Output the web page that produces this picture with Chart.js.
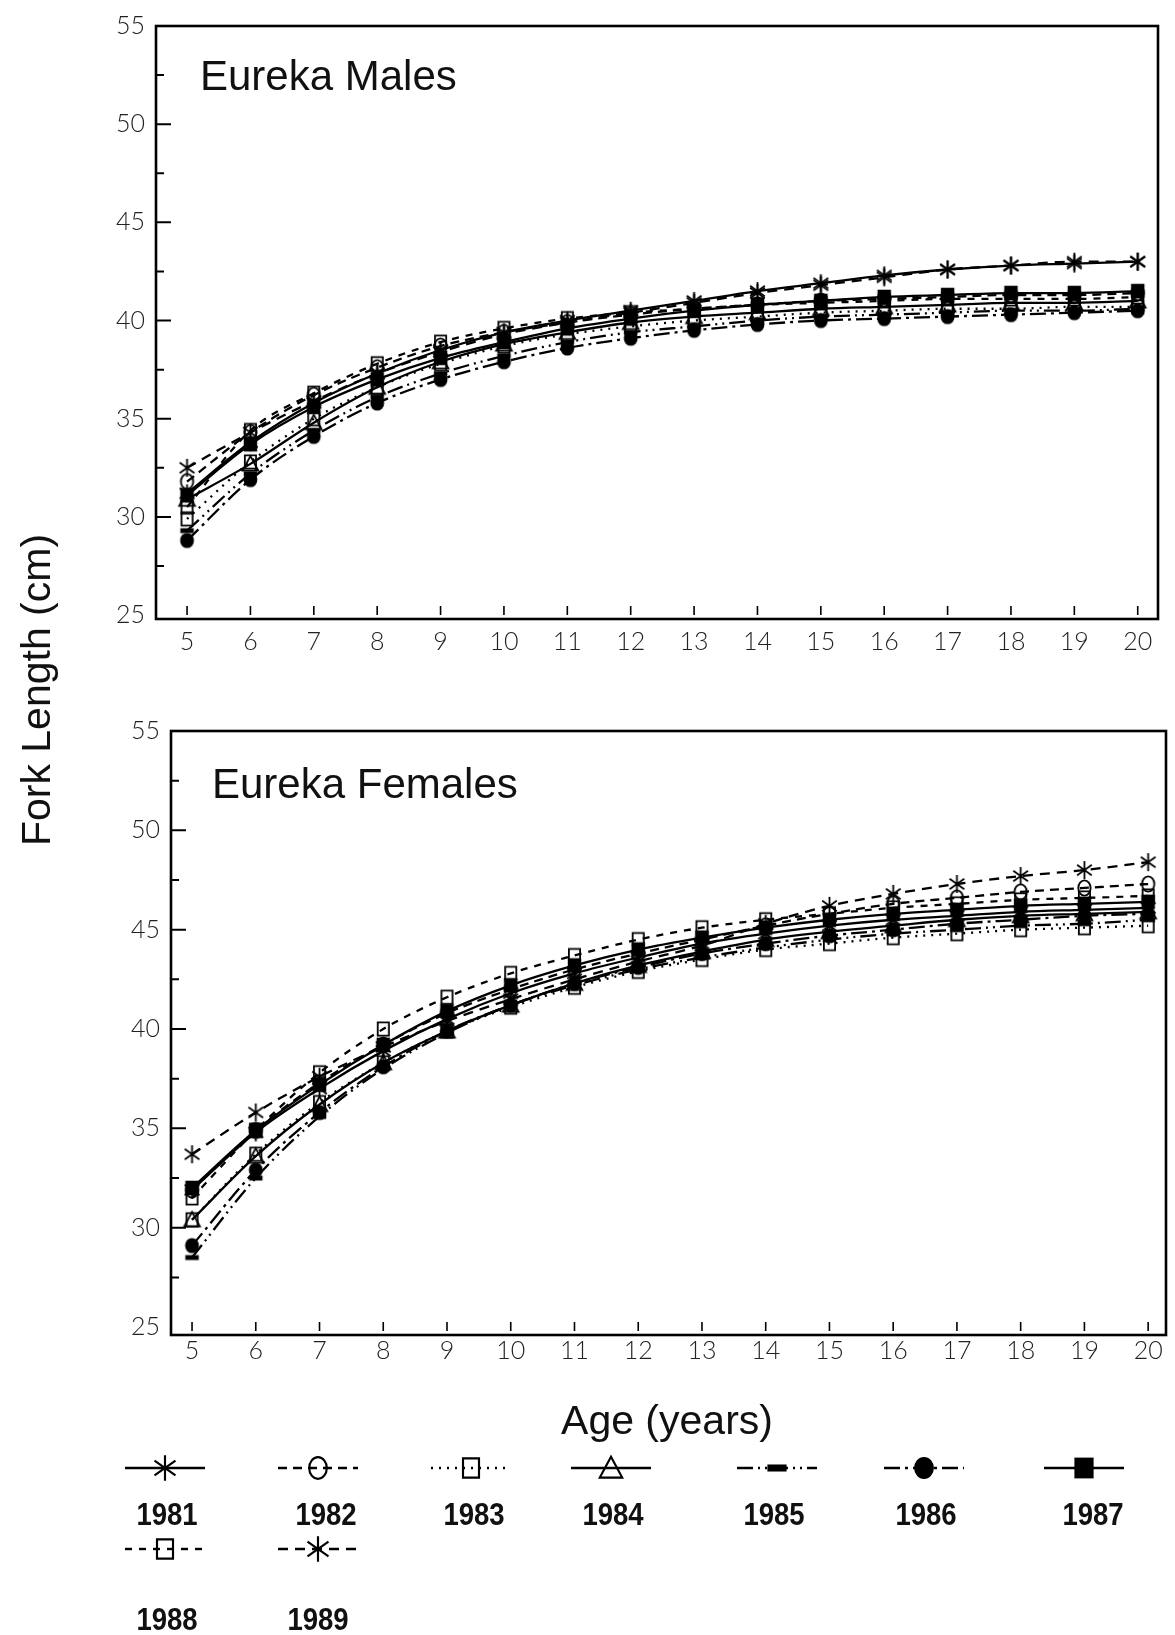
<!DOCTYPE html>
<html>
<head>
<meta charset="utf-8">
<script src="https://cdn.jsdelivr.net/npm/chart.js@4.4.1/dist/chart.umd.min.js"></script>
<style>
  html, body { margin:0; padding:0; background:#fff; }
  #wrap { position:relative; width:1175px; height:1635px; background:#fff; overflow:hidden; }
  canvas { position:absolute; }
  .txt { position:absolute; color:#111; font-family:"Liberation Sans", Arial, sans-serif; white-space:nowrap; }
  .panel { font-size:42px; }
  .axt { font-size:41px; text-align:center; width:500px; line-height:46px; }
  .leg { font-family:"Liberation Sans Narrow","Liberation Sans",Arial,sans-serif; font-weight:bold; font-size:32px; width:120px; text-align:center; line-height:36px; transform:scaleX(0.86); }
</style>
</head>
<body>
<div id="wrap">
  <canvas id="cTop" width="1175" height="680" style="left:0;top:0"></canvas>
  <canvas id="cBot" width="1175" height="700" style="left:0;top:690px"></canvas>
  <canvas id="cLeg" width="1175" height="260" style="left:0;top:1375px"></canvas>
  <div class="txt panel" style="left:200px;top:52px;">Eureka Males</div>
  <div class="txt panel" style="left:212px;top:760px;">Eureka Females</div>
  <div class="txt axt" style="left:-214px;top:667px;transform:rotate(-90deg);">Fork Length (cm)</div>
  <div class="txt axt" style="left:417px;top:1397px;">Age (years)</div>
  <div id="legLabels"></div>
</div>
<script>
// ---------------- DATA ----------------
const ages = [5, 6, 7, 8, 9, 10, 11, 12, 13, 14, 15, 16, 17, 18, 19, 20];
const xTickLabels = ['5','6','7','8','9','10','11','12','13','14','15','16','17','18','19','20'];
const yTickValues = [25, 30, 35, 40, 45, 50, 55];
const yMinorTickValues = [27.5, 32.5, 37.5, 42.5, 47.5, 52.5];
const years = ['1981', '1982', '1983', '1984', '1985', '1986', '1987', '1988', '1989'];

// Eureka Males, fork length (cm) by age
const males1981 = [31.2, 33.8, 35.8, 37.3, 38.5, 39.4, 40.0, 40.5, 41.0, 41.5, 41.9, 42.3, 42.6, 42.8, 42.9, 43.0];
const males1982 = [31.8, 34.3, 36.2, 37.6, 38.7, 39.4, 39.9, 40.3, 40.6, 40.8, 41.0, 41.1, 41.2, 41.3, 41.3, 41.4];
const males1983 = [29.9, 32.8, 35.0, 36.6, 37.8, 38.7, 39.3, 39.7, 40.0, 40.2, 40.4, 40.5, 40.6, 40.6, 40.7, 40.7];
const males1984 = [30.9, 32.7, 34.8, 36.6, 37.9, 38.8, 39.4, 39.9, 40.2, 40.4, 40.6, 40.7, 40.8, 40.9, 40.9, 41.0];
const males1985 = [29.3, 32.2, 34.4, 36.1, 37.3, 38.2, 38.9, 39.4, 39.7, 40.0, 40.2, 40.3, 40.4, 40.5, 40.5, 40.6];
const males1986 = [28.8, 31.9, 34.1, 35.8, 37.0, 37.9, 38.6, 39.1, 39.5, 39.8, 40.0, 40.1, 40.2, 40.3, 40.4, 40.5];
const males1987 = [31.1, 33.7, 35.6, 37.0, 38.1, 38.9, 39.6, 40.1, 40.5, 40.8, 41.0, 41.2, 41.3, 41.4, 41.4, 41.5];
const males1988 = [30.5, 34.4, 36.3, 37.8, 38.9, 39.6, 40.1, 40.4, 40.6, 40.8, 40.9, 41.0, 41.1, 41.1, 41.1, 41.2];
const males1989 = [32.5, 34.3, 35.9, 37.3, 38.4, 39.3, 39.9, 40.4, 40.9, 41.4, 41.8, 42.2, 42.6, 42.8, 43.0, 43.0];

// Eureka Females, fork length (cm) by age
const females1981 = [31.9, 34.8, 37.0, 38.9, 40.5, 41.8, 42.8, 43.6, 44.3, 44.8, 45.2, 45.5, 45.7, 45.9, 46.0, 46.1];
const females1982 = [31.9, 34.9, 37.3, 39.2, 40.8, 42.0, 43.0, 43.8, 44.5, 45.2, 45.8, 46.3, 46.6, 46.9, 47.1, 47.3];
const females1983 = [30.4, 33.7, 36.3, 38.3, 39.9, 41.1, 42.1, 42.9, 43.5, 44.0, 44.3, 44.6, 44.8, 45.0, 45.1, 45.2];
const females1984 = [30.4, 33.6, 36.2, 38.3, 39.9, 41.2, 42.3, 43.2, 43.9, 44.5, 44.9, 45.2, 45.5, 45.7, 45.8, 45.9];
const females1985 = [28.5, 32.5, 35.6, 38.0, 39.8, 41.2, 42.2, 43.0, 43.6, 44.1, 44.5, 44.8, 45.0, 45.2, 45.3, 45.5];
const females1986 = [29.1, 32.9, 35.8, 38.1, 39.9, 41.2, 42.3, 43.1, 43.8, 44.3, 44.7, 45.0, 45.3, 45.5, 45.7, 45.8];
const females1987 = [32.0, 34.9, 37.2, 39.2, 40.9, 42.2, 43.2, 44.0, 44.6, 45.1, 45.5, 45.8, 46.0, 46.2, 46.3, 46.4];
const females1988 = [31.5, 34.9, 37.8, 40.0, 41.6, 42.8, 43.7, 44.5, 45.1, 45.5, 45.8, 46.1, 46.3, 46.5, 46.6, 46.7];
const females1989 = [33.7, 35.8, 37.6, 39.1, 40.4, 41.5, 42.5, 43.4, 44.2, 45.3, 46.2, 46.8, 47.3, 47.7, 48.0, 48.4];

const malesSeries = [males1981, males1982, males1983, males1984, males1985, males1986, males1987, males1988, males1989];
const femalesSeries = [females1981, females1982, females1983, females1984, females1985, females1986, females1987, females1988, females1989];

// ---------------- STYLES ----------------
const dashes = {
  '1981': [], '1982': [9, 6], '1983': [2, 6], '1984': [], '1985': [16, 5, 2, 5, 2, 5],
  '1986': [16, 5, 3, 5], '1987': [], '1988': [7, 7], '1989': [10, 7]
};
const markerKind = {
  '1981': 'asterisk', '1982': 'circle', '1983': 'square', '1984': 'triangle', '1985': 'bar',
  '1986': 'dot', '1987': 'block', '1988': 'square', '1989': 'asterisk'
};

function makeMarker(kind, s) {
  const c = document.createElement('canvas');
  const W = Math.ceil(22 * s), H = Math.ceil(26 * s);
  c.width = W; c.height = H;
  const g = c.getContext('2d');
  g.translate(W / 2, H / 2);
  g.strokeStyle = '#000'; g.fillStyle = '#000';
  g.lineWidth = 1.7 * Math.sqrt(s);
  g.beginPath();
  switch (kind) {
    case 'asterisk': {
      const r = 8 * s;
      g.moveTo(0, -r); g.lineTo(0, r);
      const a = 35 * Math.PI / 180;
      g.moveTo(-r * Math.cos(a), -r * Math.sin(a)); g.lineTo(r * Math.cos(a), r * Math.sin(a));
      g.moveTo(-r * Math.cos(a), r * Math.sin(a)); g.lineTo(r * Math.cos(a), -r * Math.sin(a));
      g.stroke(); break;
    }
    case 'circle':
      g.ellipse(0, 0, 5.5 * s, 6.8 * s, 0, 0, Math.PI * 2); g.stroke(); break;
    case 'square':
      g.rect(-5 * s, -6 * s, 10 * s, 12 * s); g.stroke(); break;
    case 'triangle':
      g.moveTo(0, -7 * s); g.lineTo(7 * s, 6 * s); g.lineTo(-7 * s, 6 * s); g.closePath(); g.stroke(); break;
    case 'bar':
      g.fillRect(-6 * s, -2.2 * s, 12 * s, 4.4 * s); break;
    case 'dot':
      g.ellipse(0, 0, 6.2 * s, 6.8 * s, 0, 0, Math.PI * 2); g.fill(); break;
    case 'block':
      g.fillRect(-6 * s, -6.5 * s, 12 * s, 13 * s); break;
  }
  return c;
}

const plotMarkers = {}, legendMarkers = {};
years.forEach(y => {
  plotMarkers[y] = makeMarker(markerKind[y], 1.12);
  legendMarkers[y] = makeMarker(markerKind[y], 1.6);
});

// ---------------- PLUGIN: frame + inward ticks ----------------
const framePlugin = {
  id: 'frame',
  afterDraw(chart) {
    const { ctx, chartArea: a, scales: { x, y } } = chart;
    ctx.save();
    ctx.strokeStyle = '#000';
    ctx.setLineDash([]);
    ctx.lineWidth = 2.6;
    ctx.strokeRect(a.left, a.top, a.right - a.left, a.bottom - a.top);
    ctx.lineWidth = 2;
    ctx.beginPath();
    yTickValues.forEach(v => {
      if (v === 25 || v === 55) return;
      const p = y.getPixelForValue(v);
      ctx.moveTo(a.left, p); ctx.lineTo(a.left + 15, p);
    });
    yMinorTickValues.forEach(v => {
      const p = y.getPixelForValue(v);
      ctx.moveTo(a.left, p); ctx.lineTo(a.left + 8, p);
    });
    ctx.stroke();
    ctx.lineWidth = 1.6;
    ctx.beginPath();
    ages.forEach(v => {
      const p = x.getPixelForValue(v);
      ctx.moveTo(p, a.bottom - 4); ctx.lineTo(p, a.bottom - 13);
    });
    ctx.stroke();
    ctx.restore();
  }
};

function buildDatasets(series) {
  return series.map((vals, i) => {
    const yr = years[i];
    return {
      label: yr,
      data: ages.map((a, k) => ({ x: a, y: vals[k] })),
      borderColor: '#000',
      backgroundColor: '#000',
      borderWidth: 2.3,
      borderDash: dashes[yr],
      pointStyle: plotMarkers[yr],
      pointRadius: 6,
      cubicInterpolationMode: 'monotone',
      fill: false
    };
  });
}

const tickFont = { family: "'Lato','Liberation Sans',sans-serif", size: 25, weight: '300' };

function makeChart(id, series, cfg) {
  return new Chart(document.getElementById(id), {
    type: 'line',
    data: { datasets: buildDatasets(series) },
    plugins: [framePlugin],
    options: {
      responsive: false,
      animation: false,
      devicePixelRatio: 1,
      layout: { padding: cfg.padding },
      plugins: { legend: { display: false }, tooltip: { enabled: false }, title: { display: false } },
      scales: {
        x: {
          type: 'linear', min: cfg.xMin, max: cfg.xMax,
          grid: { display: false, drawTicks: false },
          border: { display: false },
          afterBuildTicks: s => { s.ticks = ages.map(v => ({ value: v })); },
          afterFit: s => { s.height = 45; },
          ticks: {
            color: '#222', font: tickFont, padding: cfg.xPad, maxRotation: 0, autoSkip: false,
            callback: (v) => { const k = ages.indexOf(v); return k >= 0 ? xTickLabels[k] : ''; }
          }
        },
        y: {
          type: 'linear', min: cfg.yMin, max: 55,
          grid: { display: false, drawTicks: false },
          border: { display: false },
          afterBuildTicks: s => { s.ticks = yTickValues.map(v => ({ value: v })); },
          afterFit: s => { s.width = 70; },
          ticks: { color: '#222', font: tickFont, padding: 11, callback: v => String(v) }
        }
      }
    }
  });
}

// top: chartArea left 156, top 20, right 1158, bottom 619 (canvas 680 high)
makeChart('cTop', malesSeries, {
  padding: { left: 86, top: 20, right: 17, bottom: 16 },
  xMin: 4.51, xMax: 20.32, yMin: 24.8, xPad: 8
});
// bottom: canvas top 690; chartArea left 171, top 731, right 1166, bottom 1335
makeChart('cBot', femalesSeries, {
  padding: { left: 101, top: 41, right: 9, bottom: 10 },
  xMin: 4.67, xMax: 20.28, yMin: 24.6, xPad: 1
});

// ---------------- LEGEND ----------------
const legendItems = [
  { yr: '1981', cx: 165, row: 0 }, { yr: '1982', cx: 318, row: 0 }, { yr: '1983', cx: 471, row: 0 },
  { yr: '1984', cx: 611, row: 0 }, { yr: '1985', cx: 777, row: 0 }, { yr: '1986', cx: 924, row: 0 },
  { yr: '1987', cx: 1084, row: 0 }, { yr: '1988', cx: 165, row: 1 }, { yr: '1989', cx: 318, row: 1 }
];
const labelCx = { '1981': 167, '1982': 326, '1983': 474, '1984': 613, '1985': 774, '1986': 926, '1987': 1093, '1988': 167, '1989': 318 };
const legTop = 1375;
const rowSampleY = [1468, 1549];
const rowLabelY = [1514, 1619];
const lg = document.getElementById('cLeg').getContext('2d');
const legHolder = document.getElementById('legLabels');
legendItems.forEach(it => {
  const sy = rowSampleY[it.row] - legTop;
  lg.save();
  lg.strokeStyle = '#000'; lg.lineWidth = 2.4;
  lg.setLineDash(dashes[it.yr]);
  lg.beginPath(); lg.moveTo(it.cx - 40, sy); lg.lineTo(it.cx + 40, sy); lg.stroke();
  lg.restore();
  const m = legendMarkers[it.yr];
  lg.drawImage(m, it.cx - m.width / 2, sy - m.height / 2);
  const d = document.createElement('div');
  d.className = 'txt leg';
  d.textContent = it.yr;
  d.style.left = (labelCx[it.yr] - 60) + 'px';
  d.style.top = (rowLabelY[it.row] - 18) + 'px';
  legHolder.appendChild(d);
});
</script>
</body>
</html>
